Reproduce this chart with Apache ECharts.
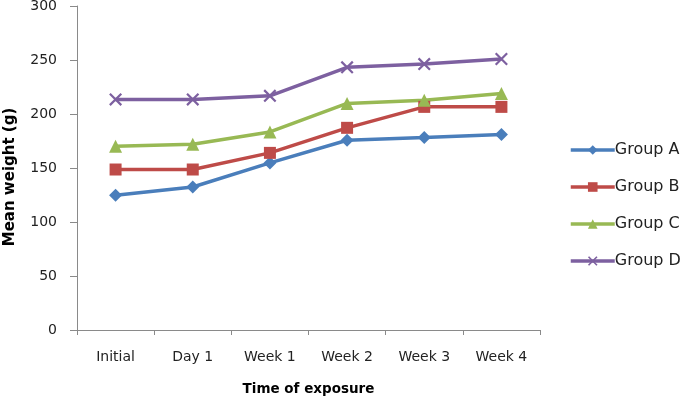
<!DOCTYPE html>
<html>
<head>
<meta charset="utf-8">
<script src="https://cdn.jsdelivr.net/npm/echarts@6/dist/echarts.min.js"></script>
<style>
html, body { margin: 0; padding: 0; background: #fff; }
#chart { width: 685px; height: 397px; }
</style>
</head>
<body>
<div id="chart"></div>
<script>
var categories = ['Initial', 'Day 1', 'Week 1', 'Week 2', 'Week 3', 'Week 4'];
var groupA = [124.7, 132.4, 154.7, 175.7, 178.2, 181];
var groupB = [148.6, 148.6, 164, 187.2, 206.6, 206.6];
var groupC = [170.2, 172, 183.4, 209.8, 212.8, 219];
var groupD = [213.5, 213.5, 216.8, 243.2, 246.2, 250.9];
var yTicks = [0, 50, 100, 150, 200, 250, 300];

var myChart = echarts.init(document.getElementById('chart'));

var crossPath = 'path://M0,1.2L1.2,0L10,8.8L8.8,10Z M8.8,0L10,1.2L1.2,10L0,8.8Z';
var font = 'DejaVu Sans';

function makeSeries(name, data, color, symbol, size) {
    return {
        name: name,
        type: 'line',
        data: data,
        symbol: symbol,
        symbolSize: size,
        showAllSymbol: true,
        lineStyle: { color: color, width: 3.5 },
        itemStyle: { color: color },
        emphasis: { disabled: true },
        animation: false
    };
}

var option = {
    backgroundColor: '#fff',
    grid: {
        left: 77,
        right: 145,
        top: 6,
        bottom: 67,
        containLabel: false,
        outerBoundsMode: 'none'
    },
    legend: {
        orient: 'vertical',
        left: 564,
        top: 137,
        itemWidth: 44,
        itemHeight: 12,
        itemGap: 21,
        lineStyle: { width: 3.5 },
        textStyle: { fontFamily: font, fontSize: 16, color: '#222', padding: [0, 0, 0, -5] },
        data: ['Group A', 'Group B', 'Group C', 'Group D']
    },
    xAxis: {
        type: 'category',
        data: categories,
        boundaryGap: true,
        name: 'Time of exposure',
        nameLocation: 'middle',
        nameGap: 52,
        nameTextStyle: { fontFamily: font, fontSize: 13.5, fontWeight: 'bold', color: '#000' },
        axisLine: { lineStyle: { color: '#8a8a8a', width: 1 } },
        axisTick: { show: true, length: 5, alignWithLabel: false, lineStyle: { color: '#8a8a8a' } },
        axisLabel: { fontFamily: font, fontSize: 14, color: '#222', margin: 20 },
        splitLine: { show: false }
    },
    yAxis: {
        type: 'value',
        min: yTicks[0],
        max: yTicks[yTicks.length - 1],
        interval: 50,
        name: 'Mean weight (g)',
        nameLocation: 'middle',
        nameGap: 59,
        nameTextStyle: { fontFamily: font, fontSize: 15, fontWeight: 'bold', color: '#000', padding: [0, 18, 0, 0] },
        axisLine: { show: true, lineStyle: { color: '#8a8a8a', width: 1 } },
        axisTick: { show: true, length: 7, lineStyle: { color: '#8a8a8a' } },
        axisLabel: { fontFamily: font, fontSize: 14, color: '#222', margin: 20 },
        splitLine: { show: false }
    },
    series: [
        makeSeries('Group A', groupA, '#4a7ebb', 'diamond', 13),
        makeSeries('Group B', groupB, '#be4b48', 'rect', 12),
        makeSeries('Group C', groupC, '#98b954', 'triangle', 13),
        makeSeries('Group D', groupD, '#7d60a0', crossPath, 13)
    ]
};

myChart.setOption(option);
</script>
</body>
</html>
